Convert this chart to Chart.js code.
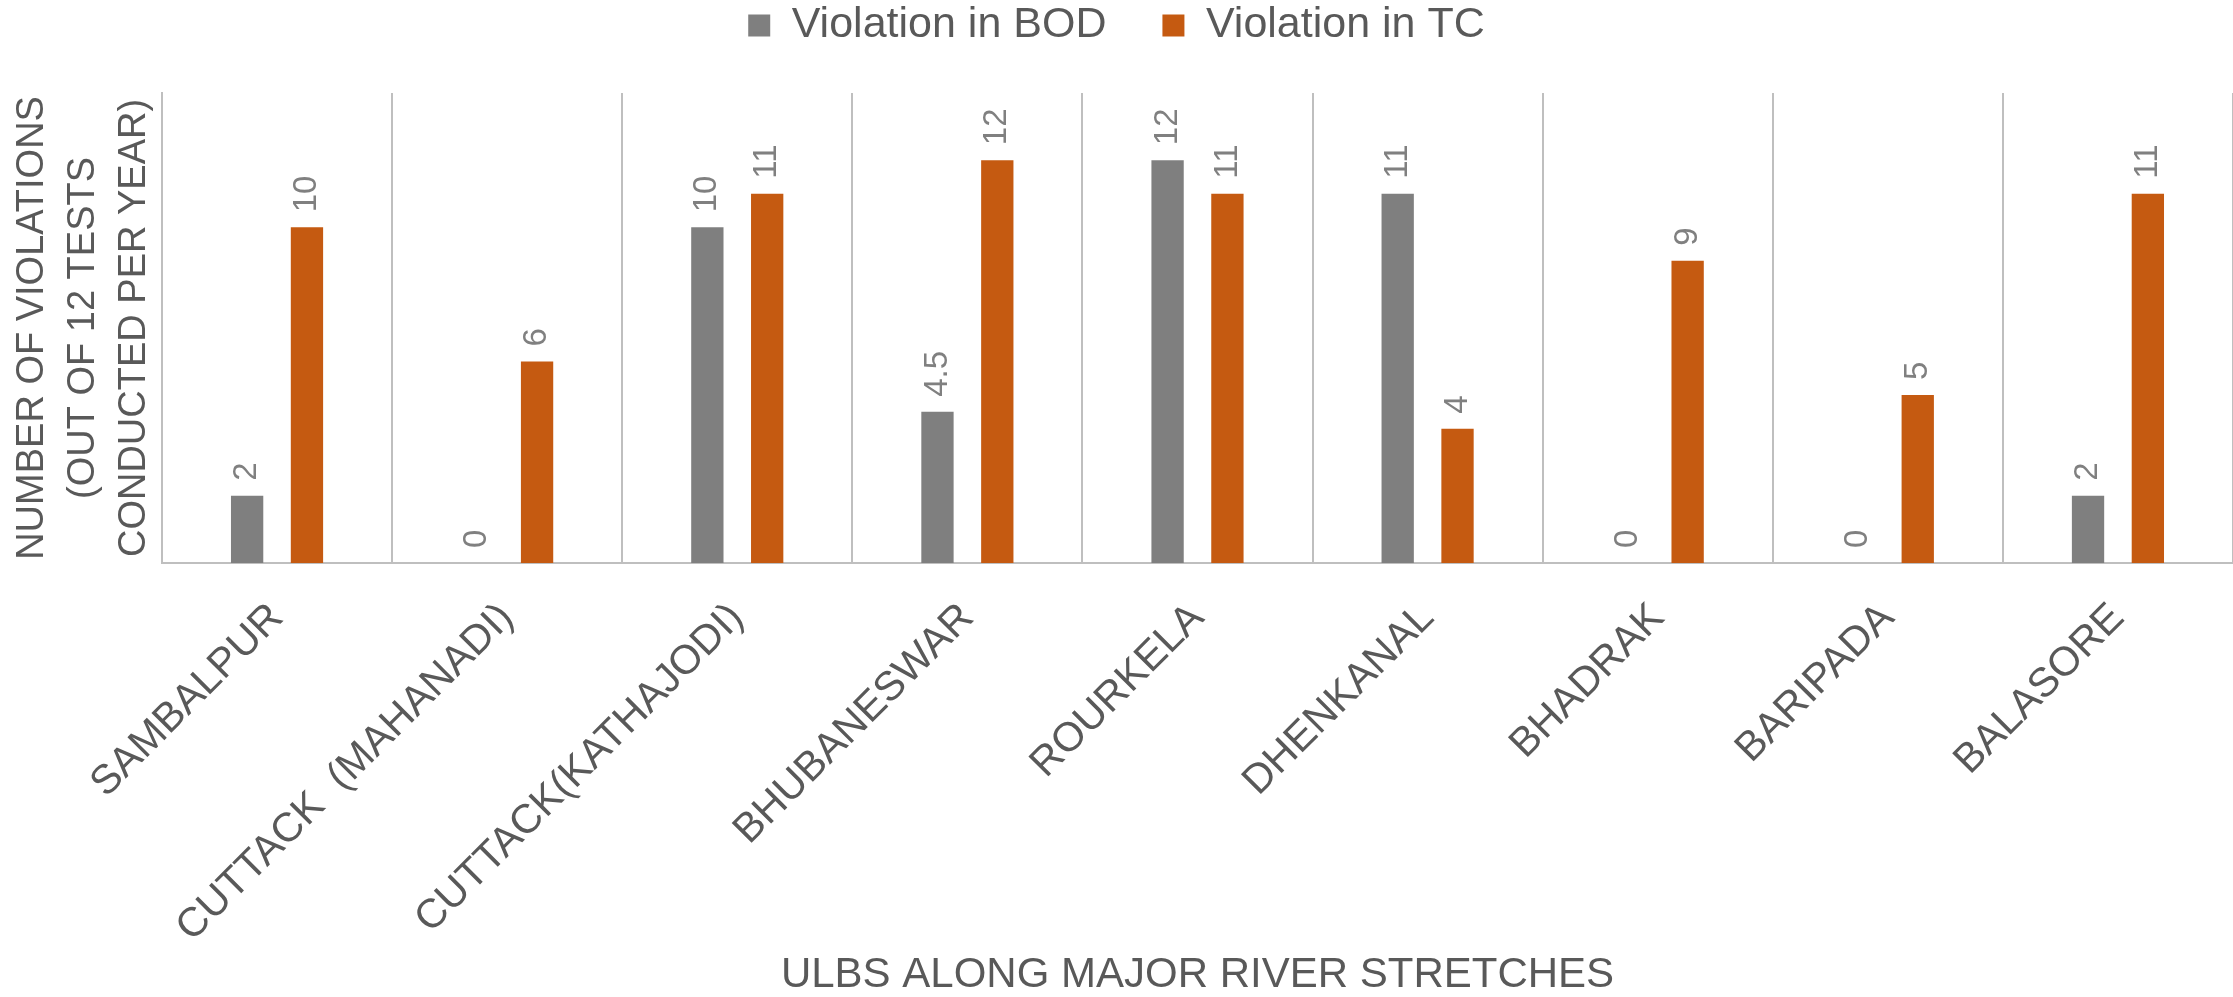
<!DOCTYPE html>
<html>
<head>
<meta charset="utf-8">
<script src="https://cdn.jsdelivr.net/npm/chart.js@4.4.1/dist/chart.umd.min.js"></script>
<style>
  html, body { margin: 0; padding: 0; background: #ffffff; }
  #wrap { width: 2233px; height: 997px; position: relative; }
</style>
</head>
<body>
<div id="wrap"><canvas id="c"></canvas></div>
<script>
const categories = [
  "SAMBALPUR",
  "CUTTACK  (MAHANADI)",
  "CUTTACK(KATHAJODI)",
  "BHUBANESWAR",
  "ROURKELA",
  "DHENKANAL",
  "BHADRAK",
  "BARIPADA",
  "BALASORE"
];
const seriesNames = ["Violation in BOD", "Violation in TC"];
const bodValues = [2, 0, 10, 4.5, 12, 11, 0, 0, 2];
const tcValues = [10, 6, 11, 12, 11, 4, 9, 5, 11];
const yTitleLines = ["NUMBER OF VIOLATIONS", "(OUT OF 12 TESTS", "CONDUCTED PER YEAR)"];
const xTitle = "ULBS ALONG MAJOR RIVER STRETCHES";

const FONT = '"Liberation Sans", Arial, Helvetica, sans-serif';
Chart.defaults.font.family = FONT;
Chart.defaults.color = '#595959';

const valueLabels = {
  id: 'valueLabels',
  afterDatasetsDraw(chart) {
    const ctx = chart.ctx;
    ctx.save();
    ctx.font = '33px ' + FONT;
    ctx.fillStyle = '#808080';
    ctx.textAlign = 'left';
    ctx.textBaseline = 'middle';
    chart.data.datasets.forEach((ds, i) => {
      const meta = chart.getDatasetMeta(i);
      meta.data.forEach((bar, j) => {
        ctx.save();
        ctx.translate(bar.x, bar.y - 15);
        ctx.rotate(-Math.PI / 2);
        ctx.fillText(String(ds.data[j]), 0, 0);
        ctx.restore();
      });
    });
    ctx.restore();
  }
};

new Chart(document.getElementById('c'), {
  type: 'bar',
  data: {
    labels: categories,
    datasets: [
      { label: seriesNames[0], data: bodValues, backgroundColor: '#7f7f7f', borderWidth: 0,
        categoryPercentage: 0.52, barPercentage: 0.54 },
      { label: seriesNames[1], data: tcValues, backgroundColor: '#c55a11', borderWidth: 0,
        categoryPercentage: 0.52, barPercentage: 0.54 }
    ]
  },
  options: {
    responsive: true,
    maintainAspectRatio: false,
    devicePixelRatio: 1,
    animation: false,
    layout: { padding: { top: -52, left: 0, right: 0, bottom: 0 } },
    plugins: {
      legend: {
        position: 'top',
        labels: {
          boxWidth: 22, boxHeight: 22, padding: 56,
          color: '#595959',
          font: { size: 43 }
        }
      },
      title: {
        display: true, text: '', weight: 500,
        padding: 0, font: { size: 10, lineHeight: 3.6 }
      },
      tooltip: { enabled: false }
    },
    scales: {
      x: {
        offset: true,
        grid: { display: true, offset: true, drawTicks: false, color: '#bfbfbf', lineWidth: 2 },
        border: { display: true, color: '#bfbfbf', width: 2 },
        ticks: {
          autoSkip: false, maxRotation: 45, minRotation: 45, padding: 31,
          color: '#595959', font: { size: 41 }
        },
        title: {
          display: true, text: xTitle, color: '#595959',
          font: { size: 42, lineHeight: 1.05 }, padding: { top: -30, bottom: 0 }
        }
      },
      y: {
        min: 0, max: 14,
        grid: { display: false, drawTicks: false },
        border: { display: true, color: '#bfbfbf', width: 2 },
        ticks: { display: false, stepSize: 2 },
        title: {
          display: true, text: yTitleLines, color: '#595959',
          font: { size: 38, lineHeight: 1.342 }, padding: { top: 7, bottom: 2 }
        }
      }
    }
  },
  plugins: [valueLabels]
});
</script>
</body>
</html>
